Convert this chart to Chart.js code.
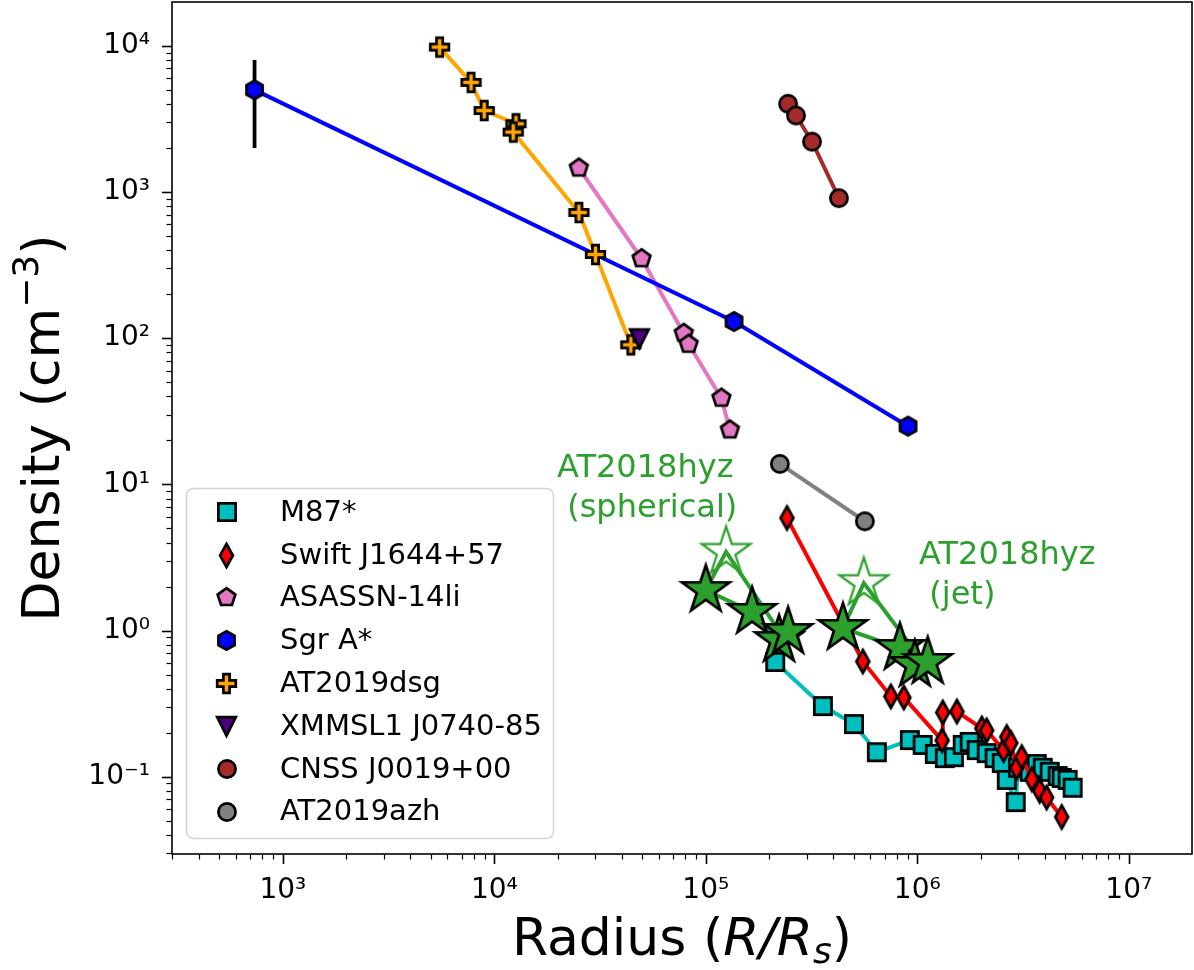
<!DOCTYPE html>
<html><head><meta charset="utf-8">
<script src="https://cdn.jsdelivr.net/npm/chart.js@4.4.0/dist/chart.umd.min.js"></script>
<style>html,body{margin:0;padding:0;background:#fff;}canvas{display:block;}</style>
</head><body>
<canvas id="c" width="1194" height="970"></canvas>
<script>
// ---------------- data ----------------
const m87R = [2.13e5,3.58e5,5.02e5,6.44e5,9.22e5,1.06e6,1.21e6,1.35e6,1.49e6,1.64e6,1.77e6,1.91e6,2.13e6,2.32e6,2.51e6,2.65e6,2.92e6,2.99e6,3.40e6,3.67e6,3.92e6,4.23e6,4.61e6,4.82e6,5.14e6,5.43e6];
const m87N = [0.609,0.304,0.229,0.147,0.178,0.165,0.143,0.134,0.136,0.165,0.173,0.152,0.145,0.134,0.124,0.095,0.067,0.115,0.108,0.122,0.115,0.108,0.101,0.098,0.095,0.084];
const swiftR = [2.42e5,5.53e5,7.50e5,8.64e5,1.31e6,1.32e6,1.54e6,2.02e6,2.13e6,2.56e6,2.65e6,2.77e6,2.95e6,3.12e6,3.48e6,3.79e6,4.09e6,4.82e6];
const swiftN = [5.89,0.614,0.354,0.348,0.177,0.275,0.279,0.214,0.207,0.152,0.187,0.170,0.115,0.136,0.096,0.080,0.072,0.053];
const asassnR = [2.51e4,4.97e4,7.87e4,8.30e4,1.185e5,1.30e5];
const asassnN = [1460,350,108,91,38.9,23.6];
const sgrR = [735,1.36e5,9.04e5];
const sgrN = [5000,130,25];
const sgrErrLo = [2000,null,null];
const sgrErrHi = [8000,null,null];
const dsgR = [5510,7760,8960,12660,12290,25120,30090,44220];
const dsgN = [9810,5620,3610,2930,2570,724,374,90];
const xmmR = [4.85e4];
const xmmN = [99];
const cnssR = [2.45e5,2.67e5,3.18e5,4.26e5];
const cnssN = [4015,3340,2210,908];
const azhR = [2.24e5,5.65e5];
const azhN = [13.8,5.59];
// AT2018hyz
const sphR = [1.00e5,1.655e5,2.22e5,2.45e5];
const sphN = [1.89,1.34,0.86,0.976];
const sphEarlyR = [1.00e5,1.247e5,2.32e5];
const sphEarlyN = [1.89,3.45,0.903];
const jetR = [4.45e5,8.27e5,9.74e5,1.12e6];
const jetN = [1.04,0.759,0.581,0.609];
const jetEarlyR = [4.45e5,5.59e5,1.11e6];
const jetEarlyN = [1.04,2.11,0.563];
// labels
const seriesLabels = ['M87*','Swift J1644+57','ASASSN-14li','Sgr A*','AT2019dsg','XMMSL1 J0740-85','CNSS J0019+00','AT2019azh'];
const annoLines = [['AT2018hyz',' (spherical)'],['AT2018hyz',' (jet)']];
const annoX = [1.98e4,1.02e6];
const annoY = [11.2,2.85];
const xTickExp = [3,4,5,6,7];
const yTickExp = [-1,0,1,2,3,4];
const xLimExp = [2.476,7.299];
const yLimExp = [-1.529,4.3];

// ---------------- markers ----------------
const FONT = "'DejaVu Sans', sans-serif";
function poly(g,n,r,rot){for(let i=0;i<n;i++){const a=rot+i*2*Math.PI/n;const px=r*Math.cos(a),py=r*Math.sin(a);i?g.lineTo(px,py):g.moveTo(px,py);}g.closePath();}
function mk(shape,fill,stroke,lw,s){
  const pad=Math.ceil(lw)+2;const W=Math.ceil(2*s+2*pad);
  const c=document.createElement('canvas');c.width=W;c.height=W;
  const g=c.getContext('2d');g.translate(W/2,W/2);g.beginPath();
  switch(shape){
    case 'square':g.rect(-s,-s,2*s,2*s);break;
    case 'diamond':g.moveTo(0,-s);g.lineTo(s*0.56,0);g.lineTo(0,s);g.lineTo(-s*0.56,0);g.closePath();break;
    case 'pentagon':poly(g,5,s,-Math.PI/2);break;
    case 'hexagon':poly(g,6,s,-Math.PI/2);break;
    case 'plus':{const t=s/3;g.moveTo(-t,-s);g.lineTo(t,-s);g.lineTo(t,-t);g.lineTo(s,-t);g.lineTo(s,t);g.lineTo(t,t);g.lineTo(t,s);g.lineTo(-t,s);g.lineTo(-t,t);g.lineTo(-s,t);g.lineTo(-s,-t);g.lineTo(-t,-t);g.closePath();break;}
    case 'tri_down':g.moveTo(-s,-s);g.lineTo(s,-s);g.lineTo(0,s);g.closePath();break;
    case 'circle':g.arc(0,0,s,0,2*Math.PI);break;
    case 'star':{const ri=s*0.381966;for(let i=0;i<10;i++){const a=-Math.PI/2+i*Math.PI/5;const r=i%2?ri:s;const px=r*Math.cos(a),py=r*Math.sin(a);i?g.lineTo(px,py):g.moveTo(px,py);}g.closePath();break;}
  }
  if(fill){g.fillStyle=fill;g.fill();}
  if(stroke){g.lineWidth=lw;g.strokeStyle=stroke;g.lineJoin='miter';g.stroke();}
  return c;
}
const GREEN='#2ca02c';
const EW=2.7;
const specs=[
  {xs:m87R,ys:m87N,color:'#00bfbf',marker:mk('square','#00bfbf','#000',EW,8.6)},
  {xs:swiftR,ys:swiftN,color:'#ff0000',marker:mk('diamond','#ff0000','#000',EW,11.5)},
  {xs:asassnR,ys:asassnN,color:'#e377c2',marker:mk('pentagon','#e377c2','#000',EW,9.3)},
  {xs:sgrR,ys:sgrN,color:'#0000ff',marker:mk('hexagon','#0000ff','#000',EW,9.3)},
  {xs:dsgR,ys:dsgN,color:'#ffa500',marker:mk('plus','#ffa500','#000',EW,9.3)},
  {xs:xmmR,ys:xmmN,color:'#4b0082',marker:mk('tri_down','#4b0082','#000',EW,9.3)},
  {xs:cnssR,ys:cnssN,color:'#a52a2a',marker:mk('circle','#a52a2a','#000',EW,8.6)},
  {xs:azhR,ys:azhN,color:'#808080',marker:mk('circle','#808080','#000',EW,8.6)}
];
const hollowStar=mk('star',null,GREEN,2.3,25.5);
const filledStar=mk('star',GREEN,'#000',EW,25);
function pts(xs,ys){return xs.map((v,i)=>({x:v,y:ys[i]}));}
const LW=4;
const datasets=specs.map((s,i)=>({
  label:seriesLabels[i],data:pts(s.xs,s.ys),showLine:true,borderColor:s.color,backgroundColor:s.color,
  borderWidth:LW,pointStyle:s.marker,pointRadius:9,legendMarker:s.marker
}));
const hideEnds=ctx=>(ctx.dataIndex===1?12:0);
datasets.push({label:'_sphEarly',data:pts(sphEarlyR,sphEarlyN),showLine:true,borderColor:GREEN,borderWidth:LW,pointStyle:hollowStar,pointRadius:hideEnds});
datasets.push({label:'_jetEarly',data:pts(jetEarlyR,jetEarlyN),showLine:true,borderColor:GREEN,borderWidth:LW,pointStyle:hollowStar,pointRadius:hideEnds});
datasets.push({label:'_sph',data:pts(sphR,sphN),showLine:true,borderColor:GREEN,borderWidth:LW,pointStyle:filledStar,pointRadius:12});
datasets.push({label:'_jet',data:pts(jetR,jetN),showLine:true,borderColor:GREEN,borderWidth:LW,pointStyle:filledStar,pointRadius:12});
datasets.forEach((d,i)=>{d.order=-i;});

const SUP={'0':'⁰','1':'¹','2':'²','3':'³','4':'⁴','5':'⁵','6':'⁶','7':'⁷','8':'⁸','9':'⁹','-':'⁻'};
function fmt(v){const e=Math.round(Math.log10(v));return '10'+String(e).split('').map(ch=>SUP[ch]).join('');}
function noPad(s){s.paddingTop=0;s.paddingBottom=0;s.paddingLeft=0;s.paddingRight=0;}

// ---------------- plugins ----------------
const errPlugin={id:'err',beforeDatasetsDraw(chart){
  const {ctx,scales:{x,y}}=chart;ctx.save();ctx.strokeStyle='#000';ctx.lineWidth=3.8;
  sgrR.forEach((r,i)=>{if(sgrErrLo[i]==null)return;const px=x.getPixelForValue(r);
    ctx.beginPath();ctx.moveTo(px,y.getPixelForValue(sgrErrLo[i]));ctx.lineTo(px,y.getPixelForValue(sgrErrHi[i]));ctx.stroke();});
  ctx.restore();}};

const decorPlugin={id:'decor',afterDatasetsDraw(chart){
  const {ctx,chartArea:a,scales:{x,y}}=chart;ctx.save();
  // annotations
  ctx.fillStyle=GREEN;ctx.font='32px '+FONT;ctx.textAlign='left';ctx.textBaseline='alphabetic';
  annoLines.forEach((lines,i)=>{const px=x.getPixelForValue(annoX[i]);const py=y.getPixelForValue(annoY[i]);
    lines.forEach((t,j)=>ctx.fillText(t,px,py+j*40));});
  // legend
  const bx=186.5,by=488.5,bw=367,bh=350,rr=7;
  ctx.beginPath();ctx.roundRect(bx,by,bw,bh,rr);ctx.fillStyle='rgba(255,255,255,0.8)';ctx.fill();
  ctx.strokeStyle='#d6d6d6';ctx.lineWidth=1.6;ctx.stroke();
  ctx.font='29px '+FONT;ctx.fillStyle='#000';ctx.textBaseline='middle';
  chart.data.datasets.forEach((d,i)=>{if(d.label.startsWith('_'))return;const yy=512.3+i*42.8;
    const m=d.legendMarker;ctx.drawImage(m,Math.round(226.7-m.width/2),Math.round(yy-m.height/2));
    ctx.fillText(d.label,280,yy+1);});
  ctx.restore();},
  afterDraw(chart){
  const {ctx,chartArea:a,scales:{x,y}}=chart;ctx.save();ctx.strokeStyle='#000';
  // ticks
  for(let e=Math.floor(xLimExp[0]);e<=Math.ceil(xLimExp[1]);e++)for(let m=1;m<10;m++){const v=m*Math.pow(10,e);
    if(v<x.min||v>x.max)continue;const px=Math.round(x.getPixelForValue(v))+0.5;ctx.lineWidth=m===1?1.6:1.2;
    ctx.beginPath();ctx.moveTo(px,a.bottom);ctx.lineTo(px,a.bottom+(m===1?10:5.5));ctx.stroke();}
  for(let e=Math.floor(yLimExp[0]);e<=Math.ceil(yLimExp[1]);e++)for(let m=1;m<10;m++){const v=m*Math.pow(10,e);
    if(v<y.min||v>y.max)continue;const py=Math.round(y.getPixelForValue(v))+0.5;ctx.lineWidth=m===1?1.6:1.2;
    ctx.beginPath();ctx.moveTo(a.left,py);ctx.lineTo(a.left-(m===1?10:5.5),py);ctx.stroke();}
  // spines
  ctx.lineWidth=1.6;ctx.strokeRect(a.left,a.top,a.right-a.left,a.bottom-a.top);
  // x title
  ctx.fillStyle='#000';ctx.textBaseline='alphabetic';ctx.textAlign='left';
  const parts=[['Radius (','52px '+FONT,0],['R/R','italic 52px '+FONT,0],['s','italic 36px '+FONT,8],[')','52px '+FONT,0]];
  let tw=0;parts.forEach(p=>{ctx.font=p[1];tw+=ctx.measureText(p[0]).width;});
  let cx=(a.left+a.right)/2-tw/2;const base=955;
  parts.forEach(p=>{ctx.font=p[1];ctx.fillText(p[0],cx,base+p[2]);cx+=ctx.measureText(p[0]).width;});
  // y title
  ctx.translate(59,(a.top+a.bottom)/2);ctx.rotate(-Math.PI/2);
  const yp=[['Density (cm','52px '+FONT,0],['\u22123','36px '+FONT,-21],[')','52px '+FONT,0]];
  tw=0;yp.forEach(p=>{ctx.font=p[1];tw+=ctx.measureText(p[0]).width;});
  cx=-tw/2;yp.forEach(p=>{ctx.font=p[1];ctx.fillText(p[0],cx,p[2]);cx+=ctx.measureText(p[0]).width;});
  ctx.restore();}};

new Chart(document.getElementById('c'),{
  type:'scatter',
  data:{datasets},
  options:{
    responsive:false,animation:false,events:[],devicePixelRatio:1,
    layout:{autoPadding:false,padding:{top:2,right:2,left:0,bottom:0}},
    plugins:{legend:{display:false},tooltip:{enabled:false}},
    scales:{
      x:{type:'logarithmic',min:Math.pow(10,xLimExp[0]),max:Math.pow(10,xLimExp[1]),
        afterBuildTicks:s=>{s.ticks=xTickExp.map(e=>({value:Math.pow(10,e)}));},
        afterFit:s=>{s.height=116;noPad(s);},
        grid:{display:false,drawTicks:false},border:{display:false},
        ticks:{autoSkip:false,maxRotation:0,minRotation:0,padding:20,color:'#000',font:{family:FONT,size:28},callback:v=>fmt(v)}},
      y:{type:'logarithmic',min:Math.pow(10,yLimExp[0]),max:Math.pow(10,yLimExp[1]),
        afterBuildTicks:s=>{s.ticks=yTickExp.map(e=>({value:Math.pow(10,e)}));},
        afterFit:s=>{s.width=172;noPad(s);},
        grid:{display:false,drawTicks:false},border:{display:false},
        ticks:{autoSkip:false,padding:22,color:'#000',font:{family:FONT,size:28},callback:v=>fmt(v)}}
    }
  },
  plugins:[errPlugin,decorPlugin]
});
</script>
</body></html>
